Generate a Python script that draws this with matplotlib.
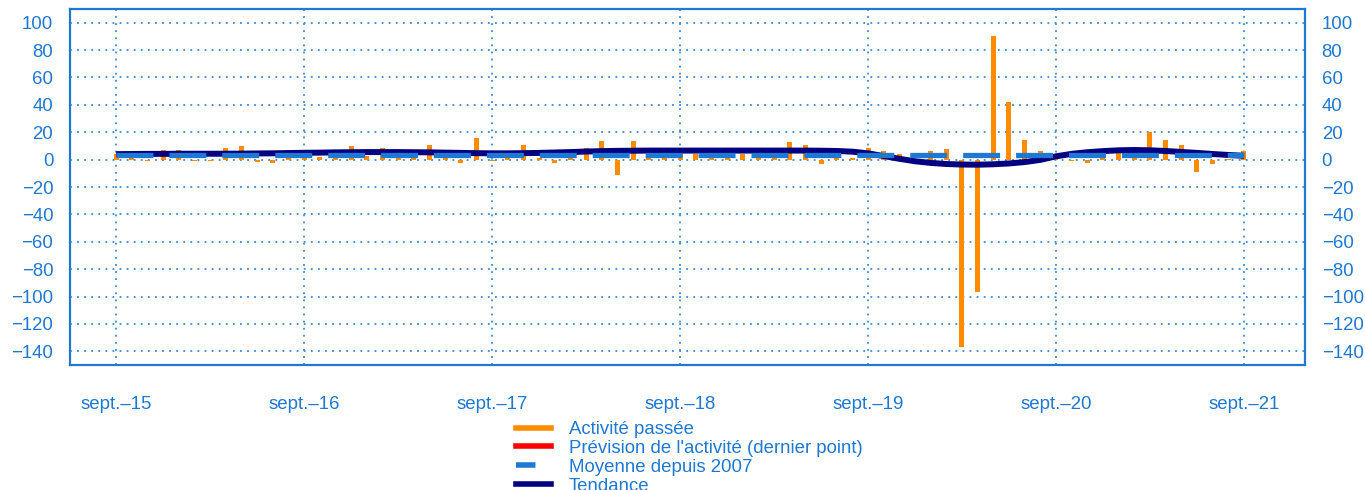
import matplotlib
matplotlib.use("Agg")
import matplotlib.pyplot as plt
from matplotlib.lines import Line2D
import numpy as np

plt.rcParams['font.family'] = ['Liberation Sans', 'DejaVu Sans']
plt.rcParams['lines.scale_dashes'] = False

BLUE = '#1f78d1'
ORANGE = '#ff8c00'
NAVY = '#000080'

# monthly values, sept-15 (index 0) .. sept-21 (index 72)
activite = [4, 1, -1, 7, 6.8, -1, -1, 8.3, 10, -1.5, -2.2, 6,
            2, 2, 1, 9.7, 3, 8.5, 1, 1, 10.5, 1, -2.2, 15.6,
            -1, 1.5, 10.7, 1, -2.2, 1, 8.3, 13.4, -11.5, 13.4, 1, 8.8,
            5, 4, 1, 1, 4, 1, 1, 13, 11, -3, 1, 1,
            8.3, 6.3, 4.4, -2, 6.3, 8, -137, -97, 90, 42, 14, 6.3,
            1, -0.7, -2.5, 4.6, 4.6, 1, 20, 14.6, 10.7, -8.8, -3.2, 0.5,
            6]
prevision = [-0.4]        # oct-21 (index 73)
moyenne = 3.5
tendance = [4.0, 4.1, 4.2, 4.2, 4.3, 4.3, 4.3, 4.3, 4.4, 4.5, 4.6, 4.8,
            5.0, 5.1, 5.3, 5.4, 5.5, 5.5, 5.5, 5.4, 5.3,
            5.1, 4.9, 4.7, 4.6, 4.6, 4.7, 4.9, 5.2, 5.5,
            5.9, 6.2, 6.4, 6.5, 6.6, 6.6, 6.6, 6.6, 6.6, 6.6,
            6.6, 6.6, 6.6, 6.6, 6.6, 6.5, 6.3, 5.8, 4.6, 2.6,
            0.6, -1.2, -2.4, -3.2, -3.6, -3.7, -3.4, -2.8, -1.8, -0.2,
            2.4, 4.2, 5.4, 6.2, 6.8, 7.0, 6.8, 6.3, 5.6, 4.9,
            4.1, 3.4, 2.8]
xlabels = ['sept.\u201315', 'sept.\u201316', 'sept.\u201317', 'sept.\u201318',
           'sept.\u201319', 'sept.\u201320', 'sept.\u201321']
yticks = list(range(-140, 101, 20))

months = np.arange(len(activite))
fs = 13.4

fig = plt.figure(figsize=(13.65, 4.9), dpi=100)
ax = fig.add_axes([70/1365, 1-365/490, (1305-70)/1365, (365-9)/490])

ax.bar(months, activite, width=0.32, color=ORANGE, zorder=2)
ax.bar([len(activite)], prevision, width=0.32, color='red', zorder=2)
ax.plot(months, tendance, color=NAVY, lw=4.3, zorder=3, solid_capstyle='butt')
ax.plot([months[0], months[-1]], [moyenne, moyenne], color=BLUE, lw=3.8,
        dashes=(26.6, 11.5), zorder=4, dash_capstyle='butt')

ax.set_xlim(-2.95, 75.9)
ax.set_ylim(-150, 110)
ax.set_yticks(yticks)
ax.set_xticks(months[::12])
ax.set_xticklabels(xlabels)
ax.grid(True, color='#3a88d6', linestyle=(0, (1.3, 3.8)), lw=1.3, zorder=1)
ax.set_axisbelow(True)
ax.tick_params(axis='y', length=0, pad=12, labelsize=fs, labelcolor=BLUE,
               right=True, labelright=True)
ax.tick_params(axis='x', length=0, pad=22, labelsize=fs, labelcolor=BLUE)
for s in ax.spines.values():
    s.set_color(BLUE)
    s.set_linewidth(1.6)

handles = [Line2D([], [], color=ORANGE, lw=4),
           Line2D([], [], color='red', lw=4),
           Line2D([], [], color=BLUE, lw=4, dashes=(14, 30)),
           Line2D([], [], color=NAVY, lw=4)]
labels = ['Activité passée', "Prévision de l'activité (dernier point)",
          'Moyenne depuis 2007', 'Tendance']
leg = fig.legend(handles, labels, loc='upper left',
                 bbox_to_anchor=(516/1365, 1-421/490), frameon=False,
                 borderpad=0, borderaxespad=0, handlelength=1.9,
                 handletextpad=0.95, labelspacing=0.1, fontsize=fs)
for t in leg.get_texts():
    t.set_color(BLUE)

fig.savefig('out.png', dpi=100)
